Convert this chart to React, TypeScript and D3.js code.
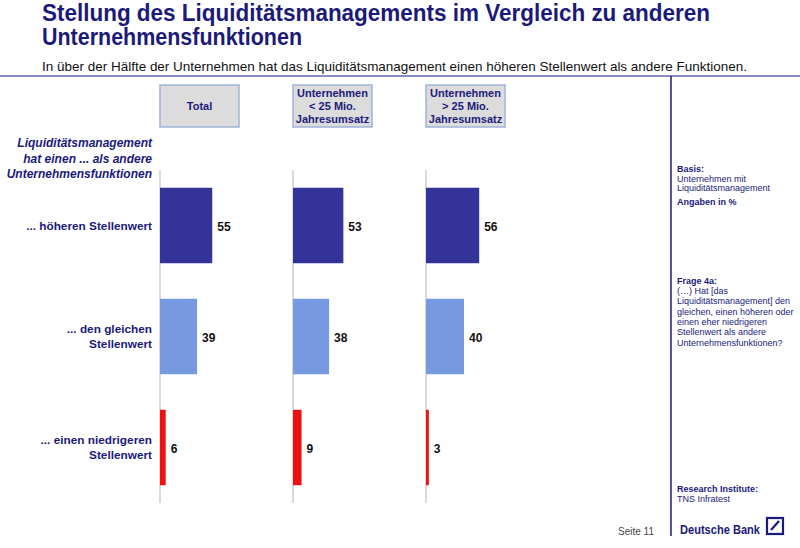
import React from "react";
import * as d3 from "d3";

const groups = ["Total", "Unternehmen\n< 25 Mio.\nJahresumsatz", "Unternehmen\n> 25 Mio.\nJahresumsatz"];
const rows = ["... höheren Stellenwert", "... den gleichen\nStellenwert", "... einen niedrigeren\nStellenwert"];
const valuesTotal = [55, 39, 6];
const valuesSmall = [53, 38, 9];
const valuesLarge = [56, 40, 3];
const seriesValues = [valuesTotal, valuesSmall, valuesLarge];
const rowColors = ["#333399", "#7799e2", "#ee1111"];

const NAVY = "#1b1a7a";
const FONT = "'Liberation Sans', Arial, sans-serif";

export default function App() {
  const W = 800, H = 548;
  const xCol = d3.scalePoint<number>().domain([0, 1, 2]).range([160, 426]);
  const xVal = d3.scaleLinear().domain([0, 100]).range([0, 95]);
  const y = d3.scaleBand<number>().domain([0, 1, 2]).range([170, 503]).paddingInner(0.32).paddingOuter(0.16);

  return (
    <svg width={W} height={H} style={{ position: "absolute", left: 0, top: 0, fontFamily: FONT }}>
      <rect width={W} height={H} fill="#fff" />
      <text x={42} y={21} fontSize={23.5} fontWeight="bold" fill={NAVY} textLength={668} lengthAdjust="spacingAndGlyphs">Stellung des Liquiditätsmanagements im Vergleich zu anderen</text>
      <text x={42} y={44.5} fontSize={23.5} fontWeight="bold" fill={NAVY} textLength={260} lengthAdjust="spacingAndGlyphs">Unternehmensfunktionen</text>
      <text x={42} y={70.5} fontSize={12.8} fill="#111" textLength={705} lengthAdjust="spacingAndGlyphs">In über der Hälfte der Unternehmen hat das Liquiditätsmanagement einen höheren Stellenwert als andere Funktionen.</text>
      <line x1={0} x2={800} y1={76} y2={76} stroke={NAVY} strokeWidth={1.2} />
      <line x1={671} x2={671} y1={76} y2={536} stroke={NAVY} strokeWidth={1.5} />

      {/* header boxes */}
      {groups.map((g, i) => {
        const x0 = xCol(i)!;
        const lines = g.split("\n");
        return (
          <g key={i}>
            <rect x={x0} y={85} width={79} height={42} fill="#dcdcdc" stroke="#9fb3d9" strokeWidth={1.5} />
            {lines.map((l, j) => (
              <text key={j} x={x0 + 39.5} y={106 + (j - (lines.length - 1) / 2) * 13 + 4} textAnchor="middle" fontSize={11} fontWeight="bold" fill={NAVY}>{l}</text>
            ))}
          </g>
        );
      })}

      {/* italic row header */}
      {["Liquiditätsmanagement", "hat einen ... als andere", "Unternehmensfunktionen"].map((l, j) => (
        <text key={j} x={152} y={147 + j * 15.5} textAnchor="end" fontSize={12} fontStyle="italic" fontWeight="bold" fill={NAVY}>{l}</text>
      ))}

      {/* row labels */}
      {rows.map((r, i) => {
        const lines = r.split("\n");
        const cy = y(i)! + y.bandwidth() / 2;
        return lines.map((l, j) => (
          <text key={i + "-" + j} x={152} y={cy + 4 + (j - (lines.length - 1) / 2) * 15} textAnchor="end" fontSize={11.8} fontWeight="bold" fill={NAVY}>{l}</text>
        ));
      })}

      {/* axes and bars */}
      {seriesValues.map((vals, gi) => {
        const x0 = xCol(gi)!;
        return (
          <g key={gi}>
            <line x1={x0} x2={x0} y1={170} y2={503} stroke="#b5b5b5" strokeWidth={1} />
            {vals.map((v, ri) => (
              <g key={ri}>
                <rect x={x0} y={y(ri)!} width={xVal(v)} height={y.bandwidth()} fill={rowColors[ri]} />
                <text x={x0 + xVal(v) + 5} y={y(ri)! + y.bandwidth() / 2 + 5} fontSize={12} fontWeight="bold" fill="#111">{v}</text>
              </g>
            ))}
          </g>
        );
      })}

      {/* right panel */}
      <g fontSize={9} fill={NAVY}>
        <text x={677} y={172} fontWeight="bold">Basis:</text>
        <text x={677} y={182}>Unternehmen mit</text>
        <text x={677} y={191}>Liquiditätsmanagement</text>
        <text x={677} y={205} fontWeight="bold">Angaben in %</text>
        <text x={677} y={284} fontWeight="bold">Frage 4a:</text>
        {["(…) Hat [das", "Liquiditätsmanagement] den", "gleichen, einen höheren oder", "einen eher niedrigeren", "Stellenwert als andere", "Unternehmensfunktionen?"].map((l, j) => (
          <text key={j} x={677} y={294 + j * 10.3}>{l}</text>
        ))}
        <text x={677} y={492} fontWeight="bold">Research Institute:</text>
        <text x={677} y={502}>TNS Infratest</text>
      </g>
      <text x={618} y={535} fontSize={10} fill="#444">Seite 11</text>
      <text x={680} y={534} fontSize={12.5} fontWeight="bold" fill={NAVY} textLength={80} lengthAdjust="spacingAndGlyphs">Deutsche Bank</text>
      <rect x={767} y={518} width={16} height={16} fill="none" stroke={NAVY} strokeWidth={2.2} />
      <line x1={771} y1={530} x2={779} y2={521} stroke={NAVY} strokeWidth={2.2} />
    </svg>
  );
}
